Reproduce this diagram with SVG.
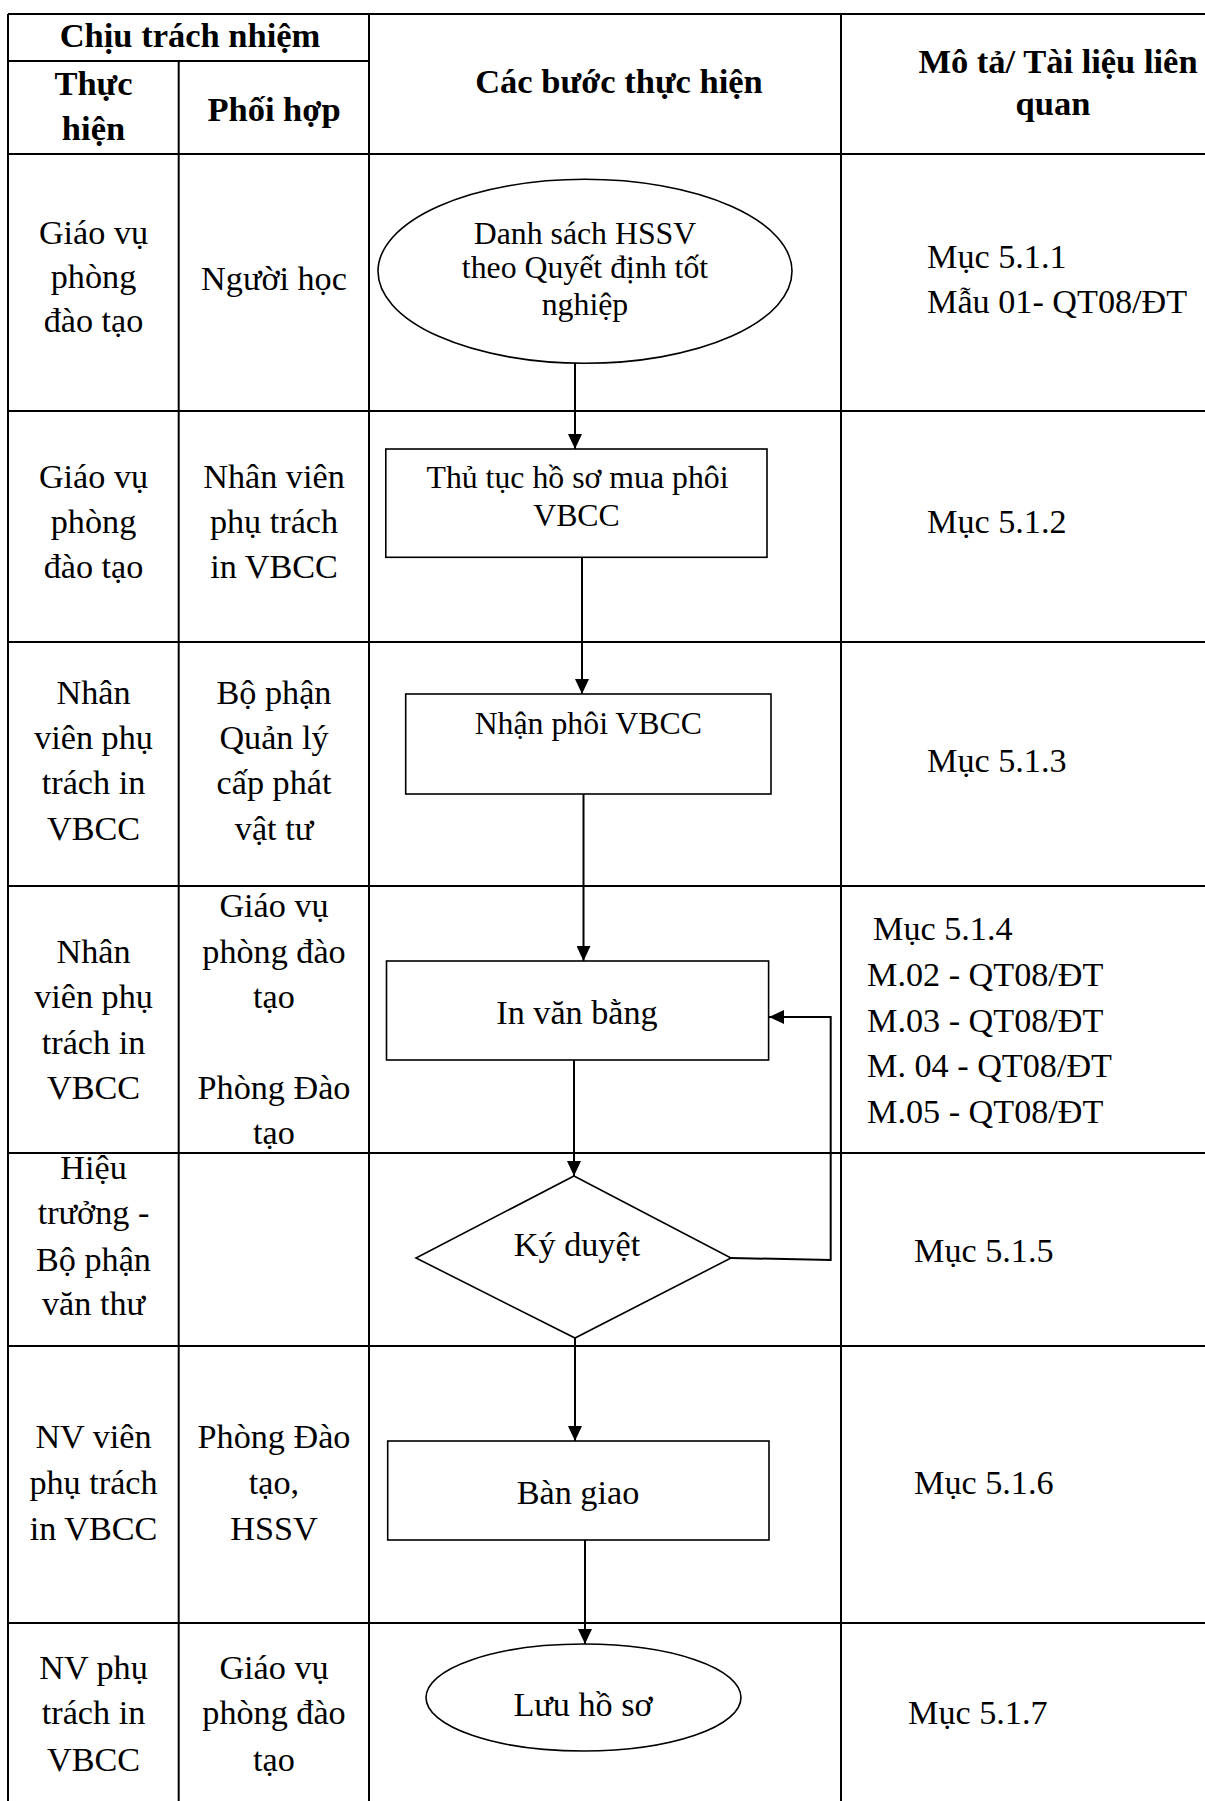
<svg xmlns="http://www.w3.org/2000/svg" width="1205" height="1801" viewBox="0 0 1205 1801">
<style>
.grid{stroke:#000;stroke-width:2;fill:none}
.shape{stroke:#000;stroke-width:1.6;fill:#fff}
.conn{stroke:#000;stroke-width:2;fill:none}
text{font-family:"Liberation Serif","Times New Roman",serif;fill:#000}
.b{font-size:34.2px}
.h{font-size:34.5px;font-weight:bold}
.f{font-size:31.8px}
.c{text-anchor:middle}
</style>
<defs>
<marker id="ah" markerUnits="userSpaceOnUse" markerWidth="15" markerHeight="14" refX="15" refY="7" orient="auto">
<path d="M0,0 L15,7 L0,14 z" fill="#000"/>
</marker>
</defs>
<rect width="1205" height="1801" fill="#fff"/>
<g id="table" class="grid">
<line x1="8" y1="14" x2="1205" y2="14"/>
<line x1="8" y1="61" x2="369" y2="61"/>
<line x1="8" y1="154" x2="1205" y2="154"/>
<line x1="8" y1="411" x2="1205" y2="411"/>
<line x1="8" y1="642" x2="1205" y2="642"/>
<line x1="8" y1="886" x2="1205" y2="886"/>
<line x1="8" y1="1153" x2="1205" y2="1153"/>
<line x1="8" y1="1346" x2="1205" y2="1346"/>
<line x1="8" y1="1623" x2="1205" y2="1623"/>
<line x1="8" y1="14" x2="8" y2="1801"/>
<line x1="178.7" y1="61" x2="178.7" y2="1801"/>
<line x1="369" y1="14" x2="369" y2="1801"/>
<line x1="841" y1="14" x2="841" y2="1801"/>
</g>
<g id="connectors">
<line class="conn" x1="575" y1="363" x2="575" y2="449" marker-end="url(#ah)"/>
<line class="conn" x1="582" y1="557" x2="582" y2="694" marker-end="url(#ah)"/>
<line class="conn" x1="583.5" y1="794" x2="583.5" y2="961" marker-end="url(#ah)"/>
<line class="conn" x1="574" y1="1060" x2="574" y2="1176" marker-end="url(#ah)"/>
<polyline class="conn" points="731,1258 830.7,1260 830.7,1017 769,1017" marker-end="url(#ah)"/>
<line class="conn" x1="575" y1="1338" x2="575" y2="1441" marker-end="url(#ah)"/>
<line class="conn" x1="585" y1="1540" x2="585" y2="1644" marker-end="url(#ah)"/>
</g>
<g id="n1"><ellipse class="shape" cx="585" cy="271.3" rx="207" ry="92"/></g>
<g id="n2"><rect class="shape" x="385.8" y="449" width="381.2" height="108.3"/></g>
<g id="n3"><rect class="shape" x="405.7" y="694" width="365.3" height="100"/></g>
<g id="n4"><rect class="shape" x="386.5" y="961" width="382.1" height="99"/></g>
<g id="n5"><polygon class="shape" points="574,1176 731,1258 575,1338 416,1258"/></g>
<g id="n6"><rect class="shape" x="387.7" y="1441" width="381.3" height="99"/></g>
<g id="n7"><ellipse class="shape" cx="583.5" cy="1697.5" rx="157.5" ry="53.5"/></g>
<g id="labels">
<text class="h c" x="190" y="47">Chịu trách nhiệm</text>
<text class="h c" x="93.5" y="95">Thực</text>
<text class="h c" x="93.5" y="140">hiện</text>
<text class="h c" x="274" y="120.5">Phối hợp</text>
<text class="h c" x="619" y="93">Các bước thực hiện</text>
<text class="h c" x="1058" y="72.6">Mô tả/ Tài liệu liên</text>
<text class="h c" x="1053" y="115">quan</text>

<text class="b c" x="93.5" y="244">Giáo vụ</text>
<text class="b c" x="93.5" y="288">phòng</text>
<text class="b c" x="93.5" y="332">đào tạo</text>
<text class="b c" x="274" y="290">Người học</text>

<text class="b c" x="93.5" y="488">Giáo vụ</text>
<text class="b c" x="93.5" y="533">phòng</text>
<text class="b c" x="93.5" y="578">đào tạo</text>
<text class="b c" x="274" y="488">Nhân viên</text>
<text class="b c" x="274" y="533">phụ trách</text>
<text class="b c" x="274" y="578">in VBCC</text>

<text class="b c" x="93.5" y="704">Nhân</text>
<text class="b c" x="93.5" y="749">viên phụ</text>
<text class="b c" x="93.5" y="794">trách in</text>
<text class="b c" x="93.5" y="840">VBCC</text>
<text class="b c" x="274" y="704">Bộ phận</text>
<text class="b c" x="274" y="749">Quản lý</text>
<text class="b c" x="274" y="794">cấp phát</text>
<text class="b c" x="274" y="840">vật tư</text>

<text class="b c" x="93.5" y="963">Nhân</text>
<text class="b c" x="93.5" y="1008">viên phụ</text>
<text class="b c" x="93.5" y="1054">trách in</text>
<text class="b c" x="93.5" y="1099">VBCC</text>
<text class="b c" x="274" y="917">Giáo vụ</text>
<text class="b c" x="274" y="963">phòng đào</text>
<text class="b c" x="274" y="1008">tạo</text>
<text class="b c" x="274" y="1099">Phòng Đào</text>
<text class="b c" x="274" y="1144">tạo</text>

<text class="b c" x="93.5" y="1178.5">Hiệu</text>
<text class="b c" x="93.5" y="1224">trưởng -</text>
<text class="b c" x="93.5" y="1270.5">Bộ phận</text>
<text class="b c" x="93.5" y="1315">văn thư</text>

<text class="b c" x="93.5" y="1448">NV viên</text>
<text class="b c" x="93.5" y="1494">phụ trách</text>
<text class="b c" x="93.5" y="1540">in VBCC</text>
<text class="b c" x="274" y="1448">Phòng Đào</text>
<text class="b c" x="274" y="1494">tạo,</text>
<text class="b c" x="274" y="1540">HSSV</text>

<text class="b c" x="93.5" y="1679">NV phụ</text>
<text class="b c" x="93.5" y="1724">trách in</text>
<text class="b c" x="93.5" y="1771">VBCC</text>
<text class="b c" x="274" y="1679">Giáo vụ</text>
<text class="b c" x="274" y="1724">phòng đào</text>
<text class="b c" x="274" y="1771">tạo</text>

<text class="f c" x="585" y="244">Danh sách HSSV</text>
<text class="f c" x="585" y="278">theo Quyết định tốt</text>
<text class="f c" x="585" y="315">nghiệp</text>
<text class="f c" x="577.5" y="488">Thủ tục hồ sơ mua phôi</text>
<text class="f c" x="576.5" y="526">VBCC</text>
<text class="f c" x="588.3" y="734">Nhận phôi VBCC</text>
<text class="b c" x="577" y="1024">In văn bằng</text>
<text class="b c" x="577" y="1256">Ký duyệt</text>
<text class="b c" x="578" y="1504">Bàn giao</text>
<text class="b c" x="583" y="1716">Lưu hồ sơ</text>

<text class="b" x="927" y="268">Mục 5.1.1</text>
<text class="b" x="927" y="313">Mẫu 01- QT08/ĐT</text>
<text class="b" x="927" y="533">Mục 5.1.2</text>
<text class="b" x="927" y="772">Mục 5.1.3</text>
<text class="b" x="873" y="940">Mục 5.1.4</text>
<text class="b" x="867" y="986">M.02 - QT08/ĐT</text>
<text class="b" x="867" y="1032">M.03 - QT08/ĐT</text>
<text class="b" x="867" y="1077">M. 04 - QT08/ĐT</text>
<text class="b" x="867" y="1123">M.05 - QT08/ĐT</text>
<text class="b" x="914" y="1262">Mục 5.1.5</text>
<text class="b" x="914" y="1494">Mục 5.1.6</text>
<text class="b" x="908" y="1724">Mục 5.1.7</text>
</g>
</svg>
